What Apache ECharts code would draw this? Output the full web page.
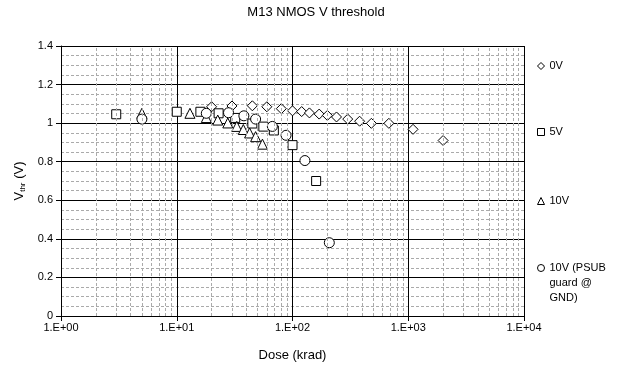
<!DOCTYPE html>
<html>
<head>
<meta charset="utf-8">
<script src="https://cdn.jsdelivr.net/npm/echarts@6/dist/echarts.min.js"></script>
<style>html,body{margin:0;padding:0;background:#fff;}#c{width:632px;height:367px;}</style>
</head>
<body>
<div id="c"></div>
<script>
// Series data (dose in krad, threshold voltage in V)
const dose0V = [20, 30, 45, 60, 80, 100, 120, 140, 170, 200, 240, 300, 380, 480, 680, 1100, 2000];
const vth0V  = [1.085, 1.089, 1.090, 1.085, 1.075, 1.064, 1.060, 1.053, 1.047, 1.040, 1.032, 1.021, 1.010, 0.999, 0.999, 0.968, 0.910];
const dose5V = [3, 10, 16, 23, 32, 45, 56, 69, 100, 160];
const vth5V  = [1.046, 1.059, 1.059, 1.051, 1.027, 0.998, 0.982, 0.962, 0.886, 0.700];
const dose10V = [5, 13, 18, 22.6, 27.6, 33, 37.6, 42.6, 48, 55];
const vth10V  = [1.051, 1.051, 1.029, 1.016, 1.001, 0.983, 0.967, 0.949, 0.930, 0.891];
const dosePSUB = [5, 18, 28, 38, 48, 67, 88, 128, 208];
const vthPSUB  = [1.021, 1.051, 1.054, 1.038, 1.021, 0.983, 0.937, 0.806, 0.380];
const seriesNames = ['0V', '5V', '10V', '10V (PSUB guard @ GND)'];
const xTickValues = [1, 10, 100, 1000, 10000];
const minorMultipliers = [2, 3, 4, 5, 6, 7, 8, 9];

const FONT = '"Liberation Sans", Arial, sans-serif';
const pair = (xs, ys) => xs.map((x, i) => [x, ys[i]]);
const minorX = [];
xTickValues.slice(0, -1).forEach(d => minorMultipliers.forEach(m => minorX.push({ xAxis: d * m })));

const markerStyle = { color: '#fff', borderColor: '#000', borderWidth: 1, opacity: 1 };
function mk(name, data, symbol, size) {
  return { name, type: 'scatter', data, symbol, symbolSize: size, itemStyle: markerStyle, z: 3, silent: true };
}
function leg(name, top, extra) {
  return Object.assign({
    data: [name], orient: 'vertical', left: 537, top: top, padding: 0,
    itemWidth: 7, itemHeight: 7, selectedMode: false,
    itemStyle: { color: '#fff', borderColor: '#000', borderWidth: 1 },
    textStyle: { fontFamily: FONT, fontSize: 11, color: '#000', lineHeight: 15 }
  }, extra || {});
}

const chart = echarts.init(document.getElementById('c'), null, { renderer: 'canvas' });
chart.setOption({
  animation: false,
  backgroundColor: '#fff',
  title: {
    text: 'M13 NMOS V threshold', left: 'center', top: 6, padding: 0,
    textStyle: { fontFamily: FONT, fontSize: 13, fontWeight: 'normal', color: '#000' }
  },
  grid: { left: 61, right: 108, top: 46, bottom: 51, containLabel: false },
  legend: [
    leg('0V', 58.5),
    leg('5V', 124.5),
    leg('10V', 193.5),
    leg('10V (PSUB guard @ GND)', 268 - 37.5, {
      formatter: () => ' \n \n10V (PSUB\nguard @\nGND)'
    })
  ],
  xAxis: {
    type: 'log', logBase: 10, min: 1, max: 10000,
    name: 'Dose (krad)', nameLocation: 'middle', nameGap: 33,
    nameTextStyle: { fontFamily: FONT, fontSize: 13, color: '#000' },
    axisLine: { show: true, lineStyle: { color: '#000', width: 1 } },
    axisTick: { show: true, length: 5, lineStyle: { color: '#000' } },
    axisLabel: {
      fontFamily: FONT, fontSize: 11, color: '#000', margin: 6,
      formatter: v => { const e = Math.round(Math.log10(v)); return '1.E+' + (e < 10 ? '0' : '') + e; }
    },
    splitLine: { show: true, lineStyle: { color: '#000', width: 1 } },
    minorTick: { show: false },
    minorSplitLine: { show: false }
  },
  yAxis: {
    type: 'value', min: 0, max: 1.4, interval: 0.2,
    name: '{a|V}{b|thr}{a| (V)}', nameLocation: 'middle', nameGap: 34, nameRotate: 90,
    nameTextStyle: {
      fontFamily: FONT, color: '#000',
      rich: { a: { fontFamily: FONT, fontSize: 13, color: '#000' }, b: { fontFamily: FONT, fontSize: 8, color: '#000', verticalAlign: 'bottom', padding: [6, 0, 0, 0] } }
    },
    axisLine: { show: true, lineStyle: { color: '#000', width: 1 } },
    axisTick: { show: true, length: 5, lineStyle: { color: '#000' } },
    axisLabel: { fontFamily: FONT, fontSize: 11, color: '#000', margin: 8 },
    splitLine: { show: true, lineStyle: { color: '#000', width: 1 } },
    minorTick: { show: false, splitNumber: 4 },
    minorSplitLine: { show: true, lineStyle: { color: '#aaa', width: 1, type: [3, 2] } }
  },
  series: [
    {
      name: 'minorGrid', type: 'scatter', data: [], z: 1, silent: true,
      markLine: {
        silent: true, symbol: ['none', 'none'], label: { show: false }, animation: false,
        lineStyle: { color: '#aaa', width: 1, type: [3, 2] },
        data: minorX
      }
    },
    mk(seriesNames[0], pair(dose0V, vth0V), 'diamond', 10),
    mk(seriesNames[1], pair(dose5V, vth5V), 'rect', 9),
    mk(seriesNames[2], pair(dose10V, vth10V), 'triangle', 10),
    mk(seriesNames[3], pair(dosePSUB, vthPSUB), 'circle', 10)
  ]
});
</script>
</body>
</html>
